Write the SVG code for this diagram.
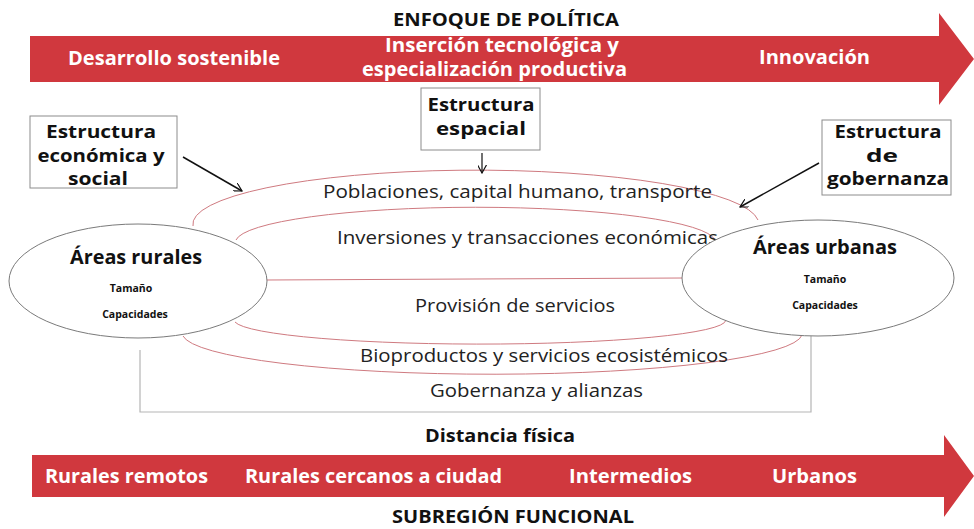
<svg xmlns="http://www.w3.org/2000/svg" width="974" height="529" viewBox="0 0 974 529">
<defs>
<style>
.band{fill:#d0383e}
.wt{fill:#ffffff;font-family:"Open Sans","Liberation Sans",sans-serif;font-weight:700;font-size:19px}
.hd{fill:#111;font-family:"Open Sans","Liberation Sans",sans-serif;font-weight:700;font-size:17px}
.bx{fill:#fff;stroke:#8c8c8c;stroke-width:1}
.bt{fill:#111;font-family:"Open Sans","Liberation Sans",sans-serif;font-weight:700;font-size:17px;text-anchor:middle}
.el{fill:#fff;stroke:#7a7a7a;stroke-width:1}
.et{fill:#111;font-family:"Open Sans","Liberation Sans",sans-serif;font-weight:700;font-size:20px;text-anchor:middle}
.es{fill:#111;font-family:"Open Sans","Liberation Sans",sans-serif;font-weight:700;font-size:10.5px;text-anchor:middle}
.tx{fill:#222;font-family:"Open Sans","Liberation Sans",sans-serif;font-size:18.5px}
.arc{fill:none;stroke:#cf7a80;stroke-width:1}
.gr{fill:none;stroke:#b5b5b5;stroke-width:1.2}
.ar{fill:none;stroke:#111;stroke-width:1.5}
</style>
<marker id="ah" viewBox="0 0 10 10" refX="9" refY="5" markerWidth="9" markerHeight="9" markerUnits="userSpaceOnUse" orient="auto">
<path d="M0,0 L9,5 L0,10" fill="none" stroke="#111" stroke-width="1.3"/>
</marker>
</defs>
<rect width="974" height="529" fill="#fff"/>

<g id="policy-arrow">
<path class="band" d="M30,36 H939 V13 L974,59 L939,105 V82 H30 Z"/>
<text class="hd" x="393" y="26" textLength="226" lengthAdjust="spacingAndGlyphs">ENFOQUE DE POLÍTICA</text>
<text class="wt" x="68" y="65" textLength="212" lengthAdjust="spacingAndGlyphs">Desarrollo sostenible</text>
<text class="wt" x="385" y="52" textLength="234" lengthAdjust="spacingAndGlyphs">Inserción tecnológica y</text>
<text class="wt" x="362" y="76" textLength="265" lengthAdjust="spacingAndGlyphs">especialización productiva</text>
<text class="wt" x="759" y="64" textLength="111" lengthAdjust="spacingAndGlyphs">Innovación</text>
</g>

<g id="subregion-arrow">
<path class="band" d="M32,455 H944 V435 L974,476 L944,517 V497 H32 Z"/>
<text class="hd" x="425" y="442" textLength="150" lengthAdjust="spacingAndGlyphs">Distancia física</text>
<text class="wt" x="45" y="483" textLength="163" lengthAdjust="spacingAndGlyphs">Rurales remotos</text>
<text class="wt" x="245" y="483" textLength="257" lengthAdjust="spacingAndGlyphs">Rurales cercanos a ciudad</text>
<text class="wt" x="569" y="483" textLength="123" lengthAdjust="spacingAndGlyphs">Intermedios</text>
<text class="wt" x="772" y="483" textLength="85" lengthAdjust="spacingAndGlyphs">Urbanos</text>
<text class="hd" x="392" y="523" textLength="242" lengthAdjust="spacingAndGlyphs">SUBREGIÓN FUNCIONAL</text>
</g>

<g id="connectors">
<path class="arc" d="M193,226 A283 54 0 0 1 758,220"/>
<path class="arc" d="M236,240 A240 35 0 0 1 715,240"/>
<path class="arc" d="M266,280 L683,278"/>
<path class="arc" d="M235,322 A245 24 0 0 0 725,318"/>
<path class="arc" d="M183,336 A310 41 0 0 0 802,335"/>
<path class="gr" d="M140,350 V412 H811 V335"/>
<line class="ar" x1="183" y1="157" x2="242" y2="191" marker-end="url(#ah)"/>
<line class="ar" x1="482" y1="153" x2="482" y2="173" marker-end="url(#ah)" style="stroke-width:1.2"/>
<line class="ar" x1="819" y1="163" x2="740" y2="207" marker-end="url(#ah)"/>
</g>

<g id="flow-labels">
<text class="tx" x="323" y="198" textLength="389" lengthAdjust="spacingAndGlyphs">Poblaciones, capital humano, transporte</text>
<text class="tx" x="337" y="244" textLength="381" lengthAdjust="spacingAndGlyphs">Inversiones y transacciones económicas</text>
<text class="tx" x="415" y="312" textLength="200" lengthAdjust="spacingAndGlyphs">Provisión de servicios</text>
<text class="tx" x="360" y="362" textLength="368" lengthAdjust="spacingAndGlyphs">Bioproductos y servicios ecosistémicos</text>
<text class="tx" x="430" y="397" textLength="213" lengthAdjust="spacingAndGlyphs">Gobernanza y alianzas</text>
</g>

<g id="box-economica">
<rect class="bx" x="30" y="116" width="147" height="72"/>
<text class="bt" x="101" y="138" textLength="110" lengthAdjust="spacingAndGlyphs">Estructura</text>
<text class="bt" x="101" y="162" textLength="127" lengthAdjust="spacingAndGlyphs">económica y</text>
<text class="bt" x="98" y="185" textLength="60" lengthAdjust="spacingAndGlyphs">social</text>
</g>

<g id="box-espacial">
<rect class="bx" x="421" y="88" width="119" height="62"/>
<text class="bt" x="481" y="111" textLength="107" lengthAdjust="spacingAndGlyphs">Estructura</text>
<text class="bt" x="481" y="135" textLength="90" lengthAdjust="spacingAndGlyphs">espacial</text>
</g>

<g id="box-gobernanza">
<rect class="bx" x="822" y="120" width="129" height="75"/>
<text class="bt" x="888" y="138" textLength="107" lengthAdjust="spacingAndGlyphs">Estructura</text>
<text class="bt" x="882" y="162" textLength="32" lengthAdjust="spacingAndGlyphs">de</text>
<text class="bt" x="888" y="185" textLength="122" lengthAdjust="spacingAndGlyphs">gobernanza</text>
</g>

<g id="areas-rurales">
<ellipse class="el" cx="138" cy="281" rx="129" ry="57"/>
<text class="et" x="136" y="264" textLength="132" lengthAdjust="spacingAndGlyphs">Áreas rurales</text>
<text class="es" x="131" y="292">Tamaño</text>
<text class="es" x="135" y="318">Capacidades</text>
</g>

<g id="areas-urbanas">
<ellipse class="el" cx="818" cy="278" rx="136" ry="58"/>
<text class="et" x="825" y="254" textLength="144" lengthAdjust="spacingAndGlyphs">Áreas urbanas</text>
<text class="es" x="825" y="283">Tamaño</text>
<text class="es" x="825" y="309">Capacidades</text>
</g>
</svg>
